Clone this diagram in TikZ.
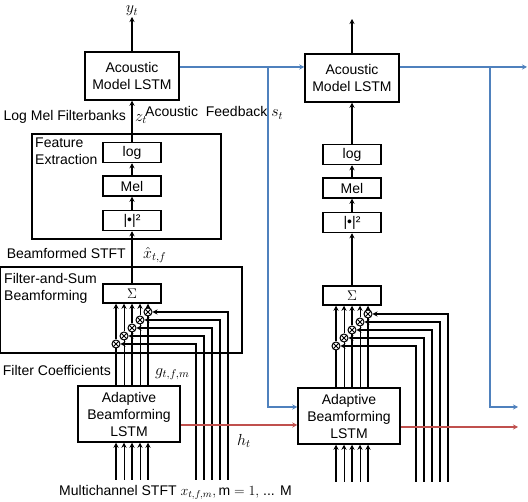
\RequirePackage{fix-cm}
\documentclass[tikz,border=0pt]{standalone}
\usepackage{fontspec}
\setmainfont{Liberation Sans}
\usepackage{tikz}
\usetikzlibrary{arrows.meta,positioning,calc}
\definecolor{fbblue}{RGB}{79,129,189}
\definecolor{hidred}{RGB}{192,80,77}
\tikzset{
  blkbox/.style={draw, line width=1.5pt, fill=white, align=center, inner sep=0pt},
  opbox/.style={draw, line width=1.5pt, fill=white, minimum width=58pt, minimum height=20pt, inner sep=0pt},
  framebox/.style={draw, line width=1.5pt, inner sep=0pt},
  multnode/.style={circle, draw, line width=1pt, fill=white, minimum size=8pt, inner sep=0pt,
    path picture={\draw[line width=0.9pt] (path picture bounding box.north west) -- (path picture bounding box.south east)
      (path picture bounding box.north east) -- (path picture bounding box.south west);}},
  sigarrow/.style={-{Stealth[length=5pt,width=5pt]}, line width=1.5pt},
  fbline/.style={-{Stealth[length=5pt,width=5pt]}, line width=1.5pt, fbblue},
  hline/.style={-{Stealth[length=5pt,width=5pt]}, line width=1.5pt, hidred},
  txtlbl/.style={inner sep=1pt, align=left},
  mathlbl/.style={inner sep=1pt, font=\fontsize{16}{18}\selectfont},
}

\begin{document}
\begin{tikzpicture}[x=1pt, y=-1pt, font=\fontsize{14}{17}\selectfont]
  \useasboundingbox (0,0) rectangle (528,502);
  % two identical columns, the second one shifted
  \foreach \c/\dx/\dy in {a/0/0, b/220/2}{
    \begin{scope}[shift={(\dx,\dy)}]
      \node[blkbox, minimum width=94pt, minimum height=48pt] (am\c) at (132,76) {Acoustic\\Model LSTM};
      \node[opbox, below=41pt of am\c] (log\c) {log};
      \node[opbox, below=12pt of log\c] (mel\c) {Mel};
      \node[opbox, below=13pt of mel\c] (pow\c) {|•|²};
      \node[opbox, minimum height=19pt, below=52pt of pow\c] (sum\c) {$\Sigma$};
      \node[blkbox, minimum width=102pt, minimum height=56pt] (abf\c) at (129,414) {Adaptive\\Beamforming\\LSTM};
      \coordinate (top\c) at (132,17);
      \coordinate (bot\c) at (0,480);
      \draw[sigarrow] (am\c) -- (top\c);
      \foreach \a/\b in {sum/pow, pow/mel, mel/log, log/am}
        \draw[sigarrow] (\a\c) -- (\b\c);
      \foreach \i/\w in {0/1.5pt, 1/0.9pt, 2/1.5pt, 3/0.9pt, 4/1.5pt}{
        \node[multnode] (m\c\i) at (116+8*\i, 344-8*\i) {};
        \coordinate (f\c\i) at (196+8*\i, 480);
        \draw[sigarrow, line width=\w] (m\c\i |- abf\c.north) -- (m\c\i) -- (m\c\i |- sum\c.south);
        \draw[sigarrow, line width=\w] (m\c\i |- bot\c) -- (m\c\i |- abf\c.south);
        \draw[sigarrow] (f\c\i) |- (m\c\i);
      }
    \end{scope}
  }
  % frames of the first column
  \node[framebox, minimum width=189pt, minimum height=105pt] (fe) at (126.5,186.5) {};
  \node[framebox, minimum width=242pt, minimum height=86pt] (fs) at (121,310) {};
  \node[txtlbl, anchor=north west] (felbl) at (34,137) {Feature\\Extraction};
  \node[txtlbl, anchor=north west] (fslbl) at (3,272) {Filter-and-Sum\\Beamforming};
  % labels
  \node[mathlbl, above=0pt of topa] (yt) {$y_t$};
  \node[txtlbl, anchor=east] (lmf) at (127,117) {Log Mel Filterbanks};
  \node[mathlbl, anchor=west] (zt) at (134,119) {$z_t$};
  \node[txtlbl, anchor=west] (afb) at (144,113) {Acoustic\ \ Feedback\ {\fontsize{16}{18}\selectfont$s_t$}};
  \node[txtlbl, anchor=east] (bstft) at (127,253) {Beamformed STFT};
  \node[mathlbl, anchor=west] (xhat) at (142,255) {$\hat{x}_{t,f}$};
  \node[txtlbl, anchor=east] (fcoef) at (112,370) {Filter Coefficients};
  \node[mathlbl, anchor=west] (gcoef) at (154,374) {$g_{t,f,m}$};
  \node[mathlbl, anchor=west] (hlbl) at (236,441) {$h_t$};
  \node[txtlbl, anchor=west] (mstft) at (58,492) {Multichannel STFT $x_{t,f,m}, \mathrm{m}=1,$ ... M};
  % feedback and hidden state between the columns
  \coordinate (sa) at (268,67);
  \coordinate (sb) at (490,67);
  \coordinate (sin) at (0,407);
  \coordinate (sout) at (527,67);
  \coordinate (sdown) at (518,407);
  \coordinate (ha) at (0,425);
  \coordinate (hout) at (518,427);
  \draw[fbline] (ama.east |- sa) -- (amb.west |- sa);
  \draw[fbline] (sa) |- (abfb.west |- sin);
  \draw[fbline] (amb.east |- sb) -- (sout);
  \draw[fbline] (sb) |- (sdown);
  \draw[hline] (abfa.east |- ha) -- (abfb.west |- ha);
  \draw[hline] (abfb.east |- hout) -- (hout);
\end{tikzpicture}
\end{document}
